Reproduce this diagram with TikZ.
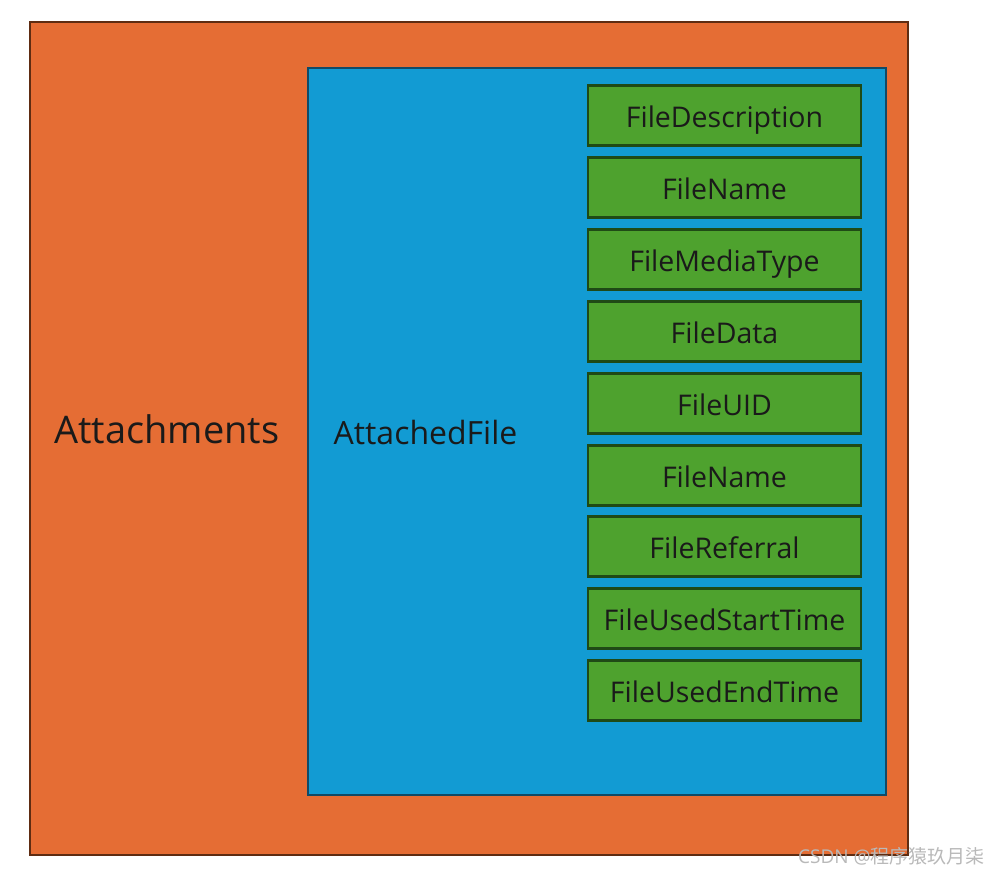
\documentclass[tikz,border=0pt]{standalone}
\usepackage{fontspec}
\setmainfont{Open Sans}
\newfontfamily\cjk{Noto Sans CJK SC}
\definecolor{orfill}{HTML}{E56D34}
\definecolor{ordraw}{HTML}{5E2C12}
\definecolor{blfill}{HTML}{129BD3}
\definecolor{bldraw}{HTML}{114A66}
\definecolor{grfill}{HTML}{4EA22E}
\definecolor{grdraw}{HTML}{1F4A16}
\definecolor{txt}{HTML}{1A1A1A}
\tikzset{
  outerbox/.style={draw=ordraw,fill=orfill,line width=2.4pt},
  innerbox/.style={draw=bldraw,fill=blfill,line width=2.4pt},
  fieldbox/.style={draw=grdraw,fill=grfill,line width=2.4pt,minimum width=273pt,minimum height=60pt,inner sep=0pt,text height=24pt,text depth=0pt,text=txt,font=\fontsize{28.5}{32}\selectfont},
}
\begin{document}
\begin{tikzpicture}[x=1pt,y=-1pt]
\useasboundingbox (0,0) rectangle (987,875);
\fill[white] (0,0) rectangle (987,875);
\draw[outerbox] (30,22) rectangle (908,855);
\draw[innerbox] (308,68) rectangle (886,795);
\node[text=txt,font=\fontsize{38}{42}\selectfont,anchor=base] (att) at (167,443) {Attachments};
\node[text=txt,font=\fontsize{32}{36}\selectfont,anchor=base] (af) at (425.5,444) {AttachedFile};
\node[fieldbox] (f1) at (724.5,115.5) {FileDescription};
\node[fieldbox] (f2) at (724.5,187.5) {FileName};
\node[fieldbox] (f3) at (724.5,259.5) {FileMediaType};
\node[fieldbox] (f4) at (724.5,331.5) {FileData};
\node[fieldbox] (f5) at (724.5,403.5) {FileUID};
\node[fieldbox] (f6) at (724.5,475.5) {FileName};
\node[fieldbox] (f7) at (724.5,546.5) {FileReferral};
\node[fieldbox] (f8) at (724.5,618.5) {FileUsedStartTime};
\node[fieldbox] (f9) at (724.5,690.5) {FileUsedEndTime};
\node[text=gray!55,font=\fontsize{19}{22}\selectfont,anchor=base east,inner sep=0pt] (wm) at (985,863) {CSDN @{\cjk 程序猿玖月柒}};
\end{tikzpicture}
\end{document}
